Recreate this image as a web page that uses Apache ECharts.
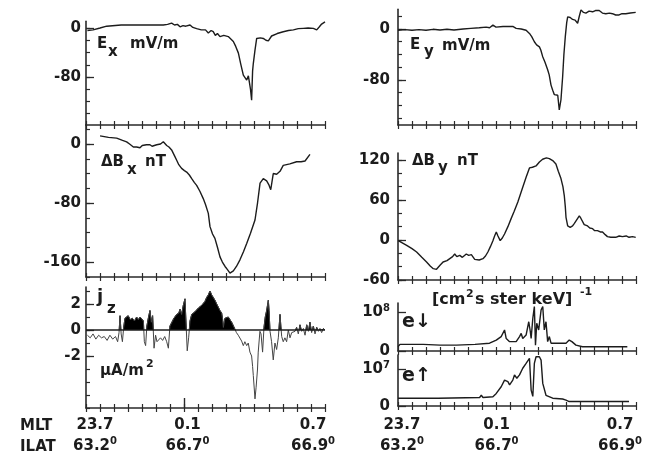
<!DOCTYPE html>
<html><head><meta charset="utf-8">
<script src="https://cdn.jsdelivr.net/npm/echarts@6/dist/echarts.min.js"></script>
<style>html,body{margin:0;padding:0;background:#fff}#c{width:661px;height:457px}</style>
</head><body><div id="c"></div>
<script>
// ---- data: [x in tick units (0..17), value] ----
const EX = [[0.1,-4],[0.5,-3],[1.0,0],[1.47,3],[2.5,5],[3.4,5],[4.5,5],[5.5,5],[5.8,6],[6.09,8],[6.3,5],[6.5,6],[6.69,2],[6.9,4],[7.1,3],[7.4,5],[7.6,1],[7.87,-1],[8.0,2],[8.2,-3],[8.34,-6],[8.5,-3],[8.7,-8],[8.9,-4],[9.05,-6],[9.2,-12],[9.35,-9],[9.53,-14],[9.8,-12],[10.12,-14],[10.3,-18],[10.48,-22],[10.65,-30],[10.84,-41],[11.0,-58],[11.19,-77],[11.3,-80],[11.43,-85],[11.55,-78],[11.62,-77],[11.7,-100],[11.78,-118],[11.85,-70],[11.9,-58],[12.02,-36],[12.14,-17],[12.4,-16],[12.61,-17],[12.8,-20],[12.97,-21],[13.2,-13],[13.6,-9],[14.03,-6],[14.4,-4],[14.75,-3],[15.1,-1],[15.46,-0.5],[15.8,0],[16.17,-0.5],[16.41,-3],[16.6,2],[16.76,6.5],[17.0,10]];
const EY = [[0,-2],[0.5,-1],[1.0,-2],[1.5,-1],[2.0,-2],[2.5,-0.5],[3.0,-1.5],[3.5,-0.5],[4.0,-1.5],[4.65,0],[5.2,1],[5.8,2],[6.3,3],[6.54,2],[6.78,6],[7.0,3],[7.5,4],[8.2,4],[8.44,1],[8.8,0],[9.15,-2],[9.39,-7],[9.55,-12],[9.74,-20],[9.9,-25],[10.1,-28],[10.2,-33],[10.33,-43],[10.5,-52],[10.69,-64],[10.8,-72],[10.93,-88],[11.05,-96],[11.17,-103],[11.3,-104],[11.41,-104],[11.52,-127],[11.64,-111],[11.76,-75],[11.85,-40],[11.95,-12],[12.05,10],[12.12,19],[12.3,18],[12.47,15],[12.65,14],[12.83,9],[12.95,20],[13.07,30],[13.25,26],[13.42,25],[13.65,28],[13.9,27],[14.1,29],[14.37,29],[14.6,25],[14.84,24],[15.1,25],[15.32,24],[15.55,22],[15.79,22],[16.0,24],[16.27,24],[16.6,25],[16.98,26]];
const DBX = [[1.0,11],[1.6,9],[2.18,8],[2.6,5],[2.89,3],[3.1,0],[3.37,-4],[3.6,-4],[3.84,-5],[4.0,-2],[4.08,0],[4.3,-1],[4.55,-1],[4.7,-3],[4.79,-4],[5.03,-1],[5.3,0],[5.5,3],[5.74,-2],[5.9,-4],[6.09,-8],[6.3,-16],[6.45,-22],[6.6,-28],[6.8,-33],[7.0,-36],[7.16,-38],[7.35,-42],[7.52,-47],[7.7,-52],[7.87,-56],[8.1,-64],[8.34,-74],[8.5,-82],[8.7,-94],[8.82,-112],[9.0,-122],[9.17,-128],[9.35,-140],[9.53,-153],[9.7,-160],[9.89,-166],[10.05,-170],[10.24,-175],[10.48,-172],[10.7,-166],[10.95,-157],[11.2,-146],[11.43,-135],[11.7,-121],[12.02,-103],[12.2,-80],[12.38,-53],[12.61,-47],[12.85,-50],[13.0,-55],[13.14,-62],[13.32,-40],[13.56,-41],[13.8,-37],[14.03,-29],[14.5,-27],[14.98,-24],[15.3,-24],[15.58,-23],[15.93,-14]];
const DBY = [[0.02,-1],[0.62,-8],[1.0,-13],[1.33,-18],[1.7,-26],[2.04,-33],[2.3,-39],[2.52,-43],[2.75,-44],[3.0,-38],[3.22,-33],[3.5,-31],[3.7,-28],[3.9,-25],[4.05,-21],[4.2,-25],[4.41,-23],[4.6,-26],[4.88,-21],[5.05,-23],[5.24,-22],[5.48,-29],[5.8,-30],[6.07,-28],[6.25,-24],[6.42,-18],[6.6,-10],[6.78,-1],[6.9,6],[7.02,12],[7.14,6],[7.3,-1],[7.45,3],[7.61,9],[7.85,20],[8.08,32],[8.3,43],[8.56,57],[8.75,69],[8.91,79],[9.15,94],[9.39,108],[9.6,109],[9.86,111],[10.1,117],[10.33,121],[10.6,123],[10.81,122],[11.05,119],[11.28,114],[11.45,103],[11.64,92],[11.78,80],[11.88,66],[11.95,50],[12.0,34],[12.12,21],[12.3,19],[12.47,21],[12.6,25],[12.71,27],[12.95,36],[13.05,33],[13.18,31],[13.3,23],[13.54,21],[13.7,18],[13.9,17],[14.05,14],[14.25,14],[14.45,12],[14.61,12],[14.8,8],[14.96,5],[15.2,4],[15.55,4],[15.8,6],[16.03,5],[16.3,6],[16.5,4],[16.75,5],[16.98,4]];
const JZ = [[0.1,-0.4],[0.3,-0.6],[0.5,-0.3],[0.7,-0.7],[0.9,-0.4],[1.1,-0.6],[1.3,-0.5],[1.5,-0.8],[1.7,-0.4],[1.9,-0.7],[2.1,-0.5],[2.25,-0.9],[2.35,-0.2],[2.42,1.1],[2.5,-0.3],[2.59,-0.9],[2.68,0.2],[2.77,0.9],[2.9,0.8],[3.0,1.1],[3.15,0.8],[3.3,0.9],[3.45,0.7],[3.6,1.0],[3.72,0.8],[3.85,1.0],[3.96,1.1],[4.08,0.7],[4.15,-0.9],[4.24,-1.2],[4.33,0.3],[4.43,0.9],[4.55,1.5],[4.65,0.6],[4.74,1.1],[4.84,-1.4],[4.95,-0.4],[5.05,-0.9],[5.14,-1.0],[5.3,-0.6],[5.45,-0.8],[5.6,-0.5],[5.74,-0.9],[5.86,-1.4],[5.97,0.3],[6.09,0.4],[6.25,0.9],[6.45,1.2],[6.6,1.3],[6.69,1.6],[6.8,1.2],[6.92,1.9],[7.04,2.4],[7.11,2.3],[7.2,-1.6],[7.3,-0.6],[7.4,0.7],[7.52,1.2],[7.65,1.3],[7.75,1.4],[7.87,1.5],[8.0,1.7],[8.12,1.6],[8.23,1.9],[8.35,2.0],[8.46,2.2],[8.58,2.5],[8.7,2.7],[8.82,3.0],[8.94,2.7],[9.06,2.6],[9.17,2.3],[9.3,2.0],[9.41,1.9],[9.53,1.5],[9.65,1.3],[9.72,0.8],[9.77,0.2],[9.88,0.9],[10.0,0.8],[10.12,1.0],[10.24,0.9],[10.36,0.6],[10.48,0.5],[10.6,0.05],[10.7,-0.2],[10.83,-0.4],[10.95,-0.5],[11.07,-0.85],[11.19,-1.2],[11.3,-0.9],[11.43,-1.2],[11.54,-1.0],[11.66,-1.7],[11.78,-2.0],[11.85,-2.8],[11.9,-3.5],[12.02,-5.3],[12.1,-4.4],[12.14,-4.3],[12.2,-3.0],[12.25,-1.7],[12.37,-0.1],[12.45,-0.3],[12.56,-1.7],[12.66,0.2],[12.75,1.0],[12.85,1.5],[12.97,2.3],[13.02,1.5],[13.09,-0.1],[13.2,-0.9],[13.32,-2.3],[13.44,-1.0],[13.56,-1.5],[13.68,-0.6],[13.8,1.2],[13.86,0.3],[13.92,-0.5],[14.03,-0.9],[14.15,-0.6],[14.27,-0.9],[14.39,0.0],[14.51,-0.6],[14.63,-0.2],[14.75,-0.3],[14.87,-0.1],[14.98,0.2],[15.1,-0.3],[15.22,0.4],[15.34,-0.1],[15.46,0.1],[15.58,-0.4],[15.7,0.4],[15.82,-0.1],[15.93,0.6],[16.05,-0.2],[16.17,0.3],[16.29,-0.3],[16.41,0.2],[16.53,-0.1],[16.64,0.1],[16.76,-0.2],[16.88,0.1],[17.0,0]];
const EDN = [[0,0.11],[0.14,0.17],[1.8,0.17],[3.0,0.15],[4.17,0.15],[5.5,0.17],[6.54,0.2],[7.02,0.28],[7.37,0.37],[7.61,0.54],[7.73,0.32],[7.97,0.24],[8.44,0.24],[8.68,0.37],[8.8,0.45],[8.91,0.32],[9.15,0.41],[9.34,0.75],[9.45,0.5],[9.51,0.32],[9.63,0.84],[9.74,1.14],[9.82,0.15],[9.91,0.71],[10.05,0.54],[10.22,1.05],[10.34,1.14],[10.45,0.54],[10.57,0.75],[10.69,0.24],[10.81,0.37],[10.93,0.2],[11.29,0.2],[12.0,0.2],[12.23,0.28],[12.42,0.24],[12.71,0.15],[13.18,0.11],[16.03,0.11],[16.38,0.11]];
const EUP = [[0,0.21],[2.87,0.21],[2.99,0.23],[5.83,0.23],[5.95,0.29],[6.07,0.23],[6.78,0.25],[7.02,0.34],[7.37,0.52],[7.61,0.7],[7.85,0.66],[7.97,0.57],[8.2,0.7],[8.32,0.84],[8.49,0.75],[8.68,0.84],[8.91,1.02],[9.15,1.15],[9.39,1.29],[9.51,0.43],[9.63,0.26],[9.74,1.15],[9.86,1.33],[9.98,1.37],[10.1,1.33],[10.22,1.24],[10.34,0.61],[10.57,0.29],[11.05,0.21],[11.76,0.19],[12.0,0.16],[12.23,0.12],[13.65,0.12],[16.5,0.12]];

// ---- tick labels ----
const EX_TICKS = [0, -80];
const EY_TICKS = [0, -80];
const BX_TICKS = [0, -80, -160];
const BY_TICKS = [120, 60, 0, -60];
const JZ_TICKS = [2, 0, -2];
const EDN_TICKS = [0, 1];
const EDN_TEXT = ['0', '{a|10}{s|8}'];
const EUP_TICKS = [0, 1];
const EUP_TEXT = ['0', '{a|10}{s|7}'];
const MLT_LABELS = ['23.7', '0.1', '0.7'];
const ILAT_LABELS = ['63.2', '66.7', '66.9'];
const LEFT_LABEL_AT = [0.64, 7.22, 16.15];
const RIGHT_LABEL_AT = [0.28, 7.04, 15.86];
const X_TICKS = [0,1,2,3,4,5,6,7,8,9,10,11,12,13,14,15,16,17];

function steps(a, b, s) { const r = []; for (let v = a; v <= b + 1e-9; v += s) r.push(+v.toFixed(6)); return r; }

const FONT = '"DejaVu Sans", sans-serif';
const INK = '#1c1c1c';
const AX = '#2a2a2a';

const panels = [
  {left:86, top:21.3, width:239, height:103.7, min:-158.4, max:11, minor:steps(-140,0,20), major:EX_TICKS, data:EX, lm:5},
  {left:398, top:9.24, width:238, height:115.76, min:-150.6, max:31, minor:steps(-140,20,20), major:EY_TICKS, data:EY, lm:8},
  {left:86, top:125, width:239, height:152, min:-180.3, max:25.8, minor:steps(-180,20,20), major:BX_TICKS, data:DBX, lm:5},
  {left:398, top:153, width:238, height:127, min:-60, max:130.4, minor:steps(-60,120,20), major:BY_TICKS, data:DBY, lm:8},
  {left:86, top:287, width:239, height:121, min:-6.0, max:3.31, minor:steps(-6,3,1), major:JZ_TICKS, data:JZ, lm:5, jz:true, bottom:'L', longTick:[7]},
  {left:398, top:303, width:238, height:48, min:0, max:1.231, minor:[], major:EDN_TICKS, text:EDN_TEXT, data:EDN, lm:8},
  {left:398, top:355, width:238, height:51, min:0, max:1.378, minor:[], major:EUP_TICKS, text:EUP_TEXT, data:EUP, lm:8, bottom:'R'}
];

const grid = [], xAxis = [], yAxis = [], series = [], visualMap = [];
const richY = {
  a:{fontFamily:FONT, fontWeight:'bold', fontSize:15, color:INK, lineHeight:18},
  s:{fontFamily:FONT, fontWeight:'bold', fontSize:10, color:INK, lineHeight:8, verticalAlign:'top'}
};
const richX = {
  a:{fontFamily:FONT, fontWeight:'bold', fontSize:15, color:INK, lineHeight:21},
  s:{fontFamily:FONT, fontWeight:'bold', fontSize:10, color:INK, lineHeight:8, verticalAlign:'top'}
};

panels.forEach((p, i) => {
  grid.push({left:p.left, top:p.top, width:p.width, height:p.height, containLabel:false});
  const xMain = xAxis.length;
  xAxis.push({gridIndex:i, type:'value', position:'bottom', min:0, max:17,
    axisLine:{show:true, onZero:false, lineStyle:{color:AX, width:1.6}},
    axisTick:{show:true, inside:true, length:4, customValues:X_TICKS, lineStyle:{color:AX, width:1.2}},
    axisLabel:{show:false}, splitLine:{show:false}});
  const lblAt = p.bottom === 'L' ? LEFT_LABEL_AT : (p.bottom === 'R' ? RIGHT_LABEL_AT : null);
  xAxis.push({gridIndex:i, type:'value', position:'bottom', min:0, max:17,
    axisLine:{show:false, onZero:false},
    axisTick:{show:true, inside:false, length:4, customValues:X_TICKS, lineStyle:{color:AX, width:1.2}},
    axisLabel: lblAt ? {show:true, customValues:lblAt, margin: p.bottom === 'L' ? 7 : 9, hideOverlap:false,
      rich:richX,
      formatter:(v) => { const k = lblAt.findIndex(q => Math.abs(q - v) < 1e-6); return k < 0 ? '' : '{a|' + MLT_LABELS[k] + '}\n{a|' + ILAT_LABELS[k] + '}{s|0}'; }
    } : {show:false},
    splitLine:{show:false}});
  if (p.longTick) {
    xAxis.push({gridIndex:i, type:'value', position:'bottom', min:0, max:17,
      axisLine:{show:false, onZero:false},
      axisTick:{show:true, inside:true, length:10, customValues:p.longTick, lineStyle:{color:AX, width:1.4}},
      axisLabel:{show:false}, splitLine:{show:false}});
  }
  const yMain = yAxis.length;
  yAxis.push({gridIndex:i, type:'value', position:'left', min:p.min, max:p.max,
    axisLine:{show:true, onZero:false, lineStyle:{color:AX, width:1.6}},
    axisTick:{show:p.minor.length > 0, inside:true, length:4, customValues:p.minor.length ? p.minor : [p.min], lineStyle:{color:AX, width:1.2}},
    axisLabel:{show:true, customValues:p.major, margin:p.lm, hideOverlap:false, rich:richY,
      formatter:(v) => { const k = p.major.findIndex(q => Math.abs(q - v) < 1e-6); if (k < 0) return ''; return p.text ? (p.text[k].indexOf('{') === 0 ? p.text[k] : '{a|' + p.text[k] + '}') : '{a|' + String(p.major[k]) + '}'; }
    },
    splitLine:{show:false}});
  yAxis.push({gridIndex:i, type:'value', position:'left', min:p.min, max:p.max,
    axisLine:{show:false, onZero:false},
    axisTick:{show:true, inside:true, length:8, customValues:p.major, lineStyle:{color:AX, width:1.3}},
    axisLabel:{show:false}, splitLine:{show:false}});

  if (p.jz) {
    const sIdx = series.length;
    series.push({type:'line', xAxisIndex:xMain, yAxisIndex:yMain, data:JZ, showSymbol:false, symbol:'none',
      lineStyle:{width:1}, areaStyle:{opacity:1, origin:0}, z:2, silent:true});
    visualMap.push({type:'piecewise', show:false, seriesIndex:sIdx, dimension:1,
      pieces:[{min:-10, max:0, color:'rgba(255,255,255,0)'}, {min:0, max:10, color:'#000000'}],
      outOfRange:{color:'rgba(255,255,255,0)'}});
    series.push({type:'line', xAxisIndex:xMain, yAxisIndex:yMain, data:JZ, showSymbol:false, symbol:'none',
      lineStyle:{color:'#444', width:1}, z:3, silent:true});
    // zero reference line of the jz panel
    series.push({type:'line', xAxisIndex:xMain, yAxisIndex:yMain, data:[], showSymbol:false, silent:true, z:4,
      markLine:{silent:true, symbol:['none','none'], label:{show:false}, animation:false,
        lineStyle:{color:INK, width:1.6, type:'solid'}, data:[{yAxis:0}]}});
  } else {
    series.push({type:'line', xAxisIndex:xMain, yAxisIndex:yMain, data:p.data, showSymbol:false, symbol:'none',
      lineStyle:{color:INK, width:1.4}, silent:true});
  }
});

function T(text, x, y, size, extra) {
  return Object.assign({type:'text', x:x, y:y, silent:true,
    style:{text:text, font:'bold ' + size + 'px ' + FONT, fill:INK, verticalAlign:'middle', align:'left'}}, extra || {});
}
const graphic = [
  T('E', 97, 44, 15), T('x', 108, 52, 15), T('mV/m', 130, 44, 15),
  T('E', 410, 45, 15), T('y', 424, 52, 15), T('mV/m', 442, 46, 15),
  T('ΔB', 101, 162, 15), T('x', 127, 170, 15), T('nT', 145, 162, 15),
  T('ΔB', 412, 161, 15), T('y', 438, 168, 15), T('nT', 457, 161, 15),
  T('j', 97, 297, 18), T('z', 107, 309, 15),
  T('μA/m', 100, 371, 15), T('2', 146, 364, 11),
  T('[cm', 432, 300, 16), T('2', 466, 294, 11), T('s ster keV]', 475, 300, 16), T('-1', 580, 292, 11),
  T('e↓', 402, 322, 19), T('e↑', 402, 376, 19),
  T('MLT', 20, 426, 15), T('ILAT', 20, 447, 15)
];

const chart = echarts.init(document.getElementById('c'), null, {renderer:'canvas'});
chart.setOption({
  animation:false, backgroundColor:'#fff',
  textStyle:{fontFamily:FONT},
  grid, xAxis, yAxis, series, visualMap, graphic
});
</script></body></html>
